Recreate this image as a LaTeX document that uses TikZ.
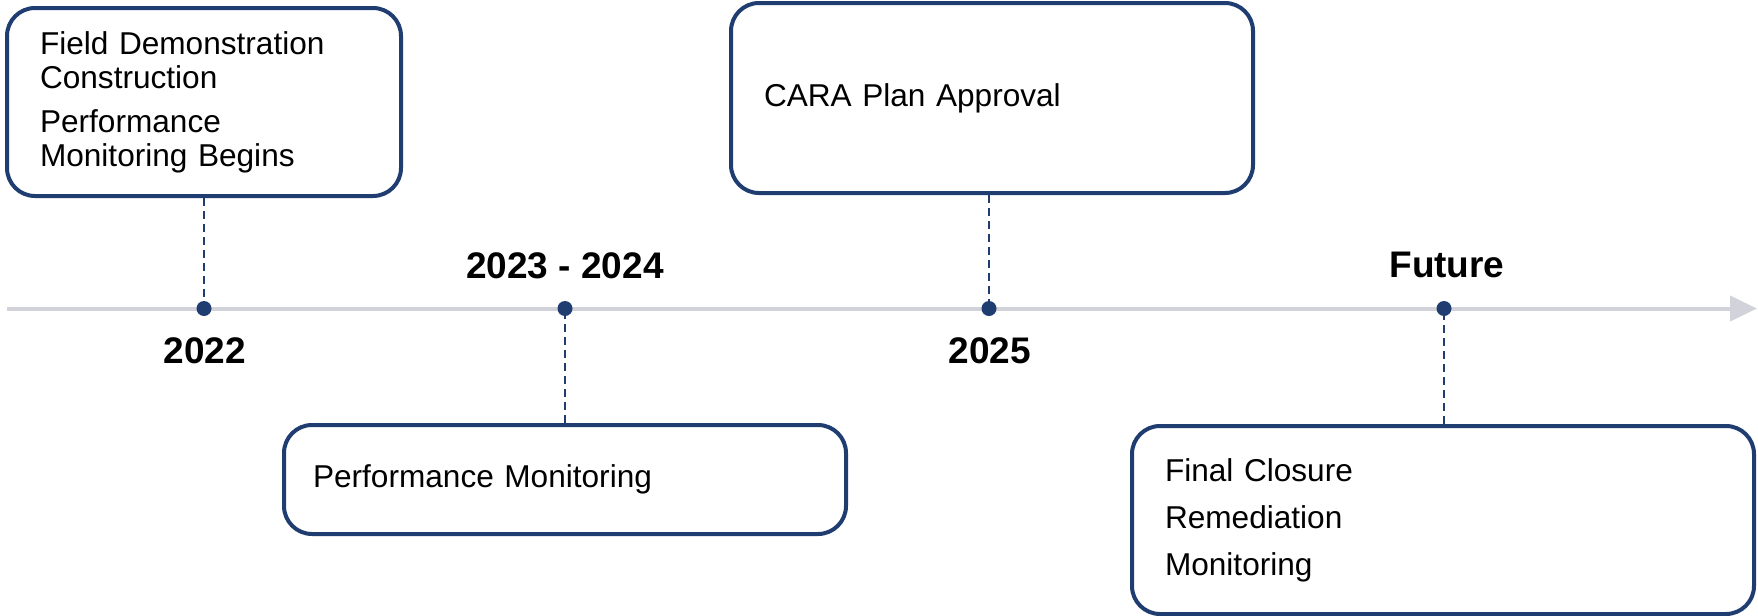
\documentclass[tikz,border=0pt]{standalone}
\usepackage{fontspec}
\setmainfont{Liberation Sans}
\usetikzlibrary{arrows.meta}
\definecolor{navy}{RGB}{31,61,112}
\definecolor{axisgray}{RGB}{210,210,218}

\begin{document}
\begin{tikzpicture}[x=0.5pt,y=-0.5pt,
    event/.style={draw=navy, line width=2pt, rounded corners=14pt, fill=white, align=left,
      inner xsep=16.5pt, inner ysep=0pt, font=\fontsize{15.8}{17}\selectfont},
    yeardot/.style={circle, fill=navy, inner sep=0pt, minimum size=7.5pt},
    yearlab/.style={font=\fontsize{18.5}{20}\selectfont\bfseries, inner sep=0pt},
    guide/.style={navy, line width=1pt, dash pattern=on 4pt off 2.5pt}]
  \useasboundingbox (0,0) rectangle (1758,616);
  \draw[axisgray, line width=2pt, -{Triangle[length=13.5pt,width=12.5pt]}] (7,308.5) -- (1757,308.5); %axis
  \node[yeardot] (d1) at (204,308.5) {};
  \node[yeardot] (d2) at (565,308.5) {};
  \node[yeardot] (d3) at (989,308.5) {};
  \node[yeardot] (d4) at (1444,308.5) {};
  \node[yearlab] (y1) at (205,350.5) {2022};
  \node[yearlab] (y2) at (565,266) {2023 - 2024};
  \node[yearlab] (y3) at (990,351) {2025};
  \node[yearlab] (y4) at (1447,265) {Future};
  \node[event, text width=164pt, minimum width=197pt, minimum height=94pt] (b1) at (204,102)
    {Field Demonstration\\Construction\\[5pt]Performance\\Monitoring Begins};
  \node[event, text width=228pt, minimum width=261pt, minimum height=95pt] (b2) at (992,98)
    {CARA Plan Approval};
  \node[event, inner xsep=14.5pt, text width=252pt, minimum width=281pt, minimum height=54.5pt] (b3) at (565,479.5)
    {Performance Monitoring};
  \node[event, text width=278pt, minimum width=311pt, minimum height=94pt] (b4) at (1443,520)
    {Final Closure\\[6.5pt]Remediation\\[6.5pt]Monitoring};
  \draw[guide] (d1 |- b1.south) -- (d1);
  \draw[guide] (d2 |- b3.north) -- (d2);
  \draw[guide] (d3 |- b2.south) -- (d3);
  \draw[guide] (d4 |- b4.north) -- (d4);
\end{tikzpicture}
\end{document}
